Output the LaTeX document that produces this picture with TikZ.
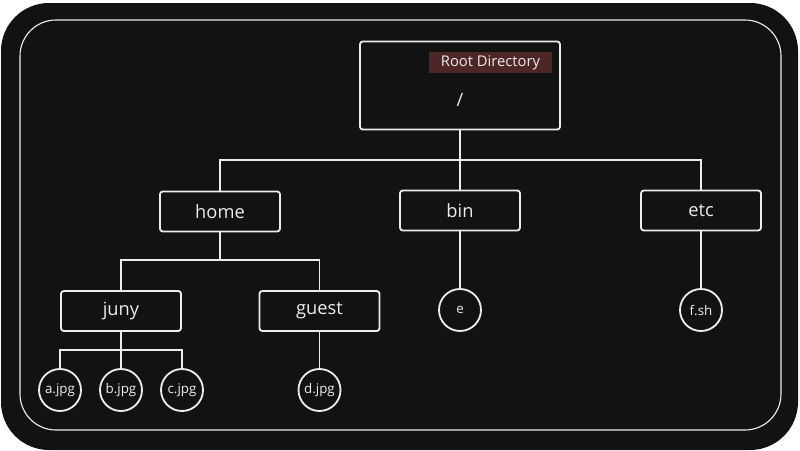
\documentclass[tikz,border=0pt]{standalone}
\usepackage{fontspec}
\setmainfont{Open Sans}
\usetikzlibrary{positioning}
\definecolor{board}{RGB}{18,18,18}
\definecolor{chalk}{RGB}{236,236,236}
\definecolor{marker}{RGB}{78,38,38}

\begin{document}
\begin{tikzpicture}[x=0.25cm,y=-0.25cm]
\tikzstyle{every node}+=[inner sep=0pt, text=chalk]
\tikzstyle{dir}=[draw=chalk, line width=1.3pt, rounded corners=2pt, minimum width=3cm, minimum height=1cm, font=\fontsize{13}{15}\selectfont]
\tikzstyle{file}=[draw=chalk, line width=1.3pt, circle, minimum size=1.05cm, font=\fontsize{9.5}{11}\selectfont]
\tikzstyle{link}=[draw=chalk, line width=1.3pt]
% board
\fill [white] (0,0) rectangle (80,45);
\fill [board, rounded corners=1.2cm] (0.1,0.3) rectangle (79.8,45);
\draw [chalk, line width=0.8pt, rounded corners=0.9cm] (2,2) rectangle (78.1,43);
% directories
\node [dir, minimum width=5cm, minimum height=2.2cm] (root) at (46,8.55) {};
\node (slash) at (46,10) {\fontsize{13}{15}\selectfont /};
\node [fill=marker, minimum width=3.07cm, minimum height=0.52cm, font=\fontsize{10.5}{12}\selectfont] (rootlabel) at (49.05,6.25) {Root Directory};
\node [dir] (home) at (22,21.15) {home};
\node [dir] (bin) at (46,21.05) {bin};
\node [dir] (etc) at (70.1,21.05) {etc};
\node [dir] (juny) at (12.1,31.1) {juny};
\node [dir] (guest) at (31.95,31.1) {guest};
% files
\node [file] (a) at (6,39) {a.jpg};
\node [file] (b) at (12.1,39) {b.jpg};
\node [file] (c) at (18.2,39) {c.jpg};
\node [file] (d) at (31.95,39) {d.jpg};
\node [file] (e) at (46,31) {e};
\node [file] (fsh) at (70.1,31) {f.sh};
% links
\coordinate (rootbar) at (46,16);
\coordinate (homebar) at (22,26);
\coordinate (junybar) at (12.1,35);
\draw [link] (root) -- (rootbar);
\draw [link] (home.north) |- (rootbar) -| (etc.north);
\draw [link] (bin) -- (rootbar);
\draw [link] (home) -- (homebar);
\draw [link] (juny.north) |- (homebar) -| (guest.north);
\draw [link] (juny) -- (junybar);
\draw [link] (a.north) |- (junybar) -| (c.north);
\draw [link] (b) -- (junybar);
\draw [link] (guest) -- (d);
\draw [link] (bin) -- (e);
\draw [link] (etc) -- (fsh);
\end{tikzpicture}
\end{document}
